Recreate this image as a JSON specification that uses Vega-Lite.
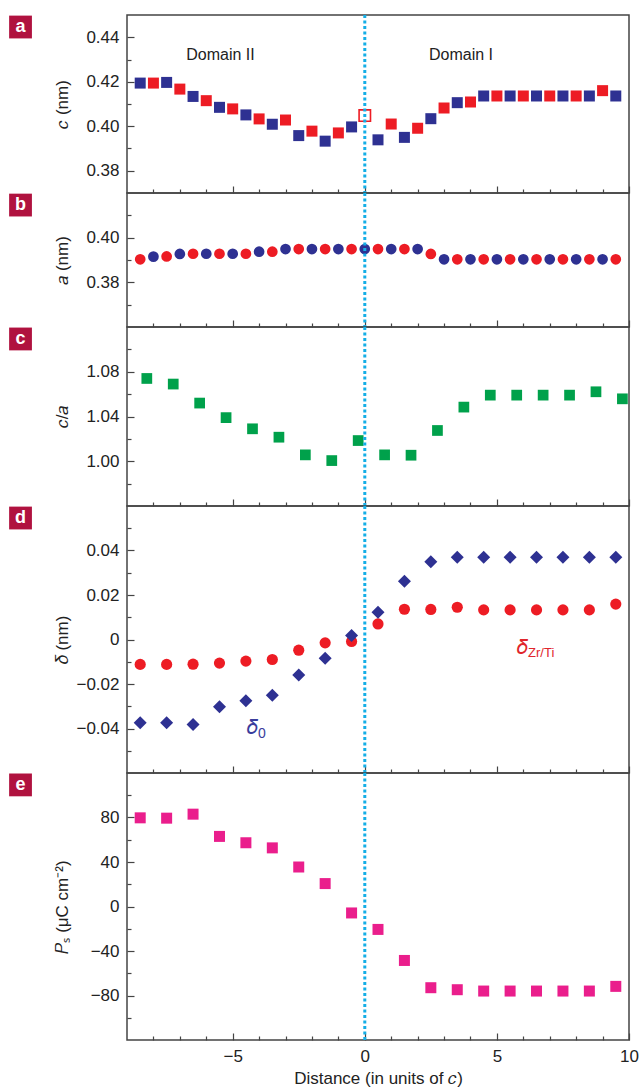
{
  "$schema": "https://vega.github.io/schema/vega-lite/v6.json",
  "padding": {"top": 12, "left": 8, "right": 2, "bottom": 0},
  "background": "white",
  "spacing": 0,
  "bounds": "flush",
  "config": {
    "font": "Liberation Sans",
    "view": {"stroke": "#444", "strokeWidth": 1.5},
    "axis": {"domain": false, "grid": false, "tickColor": "#444", "tickWidth": 1.2, "labelFontSize": 17, "titleFontSize": 17, "labelColor": "#222", "titleColor": "#222", "titleFontWeight": "normal", "labelPadding": 15, "labelOverlap": false, "labelFlush": false, "labelBound": false, "tickCount": 60},
    "concat": {"spacing": 0}
  },
  "datasets": {
    "one": [{}],
    "a": [
      {"x": -8.5, "v": 0.4194, "s": "blue"}, {"x": -8, "v": 0.4194, "s": "red"},
      {"x": -7.5, "v": 0.4197, "s": "blue"}, {"x": -7, "v": 0.4167, "s": "red"},
      {"x": -6.5, "v": 0.4134, "s": "blue"}, {"x": -6, "v": 0.4115, "s": "red"},
      {"x": -5.5, "v": 0.4085, "s": "blue"}, {"x": -5, "v": 0.4078, "s": "red"},
      {"x": -4.5, "v": 0.4051, "s": "blue"}, {"x": -4, "v": 0.4033, "s": "red"},
      {"x": -3.5, "v": 0.4009, "s": "blue"}, {"x": -3, "v": 0.4028, "s": "red"},
      {"x": -2.5, "v": 0.3958, "s": "blue"}, {"x": -2, "v": 0.3978, "s": "red"},
      {"x": -1.5, "v": 0.3933, "s": "blue"}, {"x": -1, "v": 0.3970, "s": "red"},
      {"x": -0.5, "v": 0.3997, "s": "blue"}, {"x": 0, "v": 0.4048, "s": "open"},
      {"x": 0.5, "v": 0.3939, "s": "blue"}, {"x": 1, "v": 0.4010, "s": "red"},
      {"x": 1.5, "v": 0.3950, "s": "blue"}, {"x": 2, "v": 0.3991, "s": "red"},
      {"x": 2.5, "v": 0.4034, "s": "blue"}, {"x": 3, "v": 0.4082, "s": "red"},
      {"x": 3.5, "v": 0.4106, "s": "blue"}, {"x": 4, "v": 0.4109, "s": "red"},
      {"x": 4.5, "v": 0.4136, "s": "blue"}, {"x": 5, "v": 0.4136, "s": "red"},
      {"x": 5.5, "v": 0.4136, "s": "blue"}, {"x": 6, "v": 0.4136, "s": "red"},
      {"x": 6.5, "v": 0.4136, "s": "blue"}, {"x": 7, "v": 0.4136, "s": "red"},
      {"x": 7.5, "v": 0.4136, "s": "blue"}, {"x": 8, "v": 0.4136, "s": "red"},
      {"x": 8.5, "v": 0.4136, "s": "blue"}, {"x": 9, "v": 0.4160, "s": "red"},
      {"x": 9.5, "v": 0.4136, "s": "blue"}
    ],
    "b": [
      {"x": -8.5, "v": 0.3903, "s": "red"}, {"x": -8, "v": 0.3915, "s": "blue"},
      {"x": -7.5, "v": 0.3916, "s": "red"}, {"x": -7, "v": 0.3927, "s": "blue"},
      {"x": -6.5, "v": 0.3928, "s": "red"}, {"x": -6, "v": 0.3928, "s": "blue"},
      {"x": -5.5, "v": 0.3928, "s": "red"}, {"x": -5, "v": 0.3928, "s": "blue"},
      {"x": -4.5, "v": 0.3928, "s": "red"}, {"x": -4, "v": 0.3937, "s": "blue"},
      {"x": -3.5, "v": 0.3937, "s": "red"}, {"x": -3, "v": 0.3949, "s": "blue"},
      {"x": -2.5, "v": 0.3949, "s": "red"}, {"x": -2, "v": 0.3949, "s": "blue"},
      {"x": -1.5, "v": 0.3949, "s": "red"}, {"x": -1, "v": 0.3949, "s": "blue"},
      {"x": -0.5, "v": 0.3949, "s": "red"}, {"x": 0, "v": 0.3949, "s": "blue"},
      {"x": 0.5, "v": 0.3949, "s": "red"}, {"x": 1, "v": 0.3949, "s": "blue"},
      {"x": 1.5, "v": 0.3949, "s": "red"}, {"x": 2, "v": 0.3949, "s": "blue"},
      {"x": 2.5, "v": 0.3927, "s": "red"}, {"x": 3, "v": 0.3903, "s": "blue"},
      {"x": 3.5, "v": 0.3903, "s": "red"}, {"x": 4, "v": 0.3903, "s": "blue"},
      {"x": 4.5, "v": 0.3903, "s": "red"}, {"x": 5, "v": 0.3903, "s": "blue"},
      {"x": 5.5, "v": 0.3903, "s": "red"}, {"x": 6, "v": 0.3903, "s": "blue"},
      {"x": 6.5, "v": 0.3903, "s": "red"}, {"x": 7, "v": 0.3903, "s": "blue"},
      {"x": 7.5, "v": 0.3903, "s": "red"}, {"x": 8, "v": 0.3903, "s": "blue"},
      {"x": 8.5, "v": 0.3903, "s": "red"}, {"x": 9, "v": 0.3903, "s": "blue"},
      {"x": 9.5, "v": 0.3903, "s": "red"}
    ],
    "c": [
      {"x": -8.25, "v": 1.074}, {"x": -7.25, "v": 1.069}, {"x": -6.25, "v": 1.052},
      {"x": -5.25, "v": 1.039}, {"x": -4.25, "v": 1.029}, {"x": -3.25, "v": 1.0215},
      {"x": -2.25, "v": 1.0057}, {"x": -1.25, "v": 1.0006}, {"x": -0.25, "v": 1.0185},
      {"x": 0.75, "v": 1.0057}, {"x": 1.75, "v": 1.0054}, {"x": 2.75, "v": 1.0275},
      {"x": 3.75, "v": 1.0484}, {"x": 4.75, "v": 1.0591}, {"x": 5.75, "v": 1.0591},
      {"x": 6.75, "v": 1.0591}, {"x": 7.75, "v": 1.0591}, {"x": 8.75, "v": 1.0621},
      {"x": 9.75, "v": 1.0558}
    ],
    "d": [
      {"x": -8.5, "zr": -0.0112, "d0": -0.0374}, {"x": -7.5, "zr": -0.0112, "d0": -0.0374},
      {"x": -6.5, "zr": -0.0111, "d0": -0.0382}, {"x": -5.5, "zr": -0.0106, "d0": -0.0302},
      {"x": -4.5, "zr": -0.0097, "d0": -0.0275}, {"x": -3.5, "zr": -0.0090, "d0": -0.0251},
      {"x": -2.5, "zr": -0.0048, "d0": -0.0159}, {"x": -1.5, "zr": -0.0015, "d0": -0.0084},
      {"x": -0.5, "zr": -0.0009, "d0": 0.0018}, {"x": 0.5, "zr": 0.0070, "d0": 0.0123},
      {"x": 1.5, "zr": 0.0136, "d0": 0.0262}, {"x": 2.5, "zr": 0.0135, "d0": 0.0350},
      {"x": 3.5, "zr": 0.0145, "d0": 0.0370}, {"x": 4.5, "zr": 0.0133, "d0": 0.0370},
      {"x": 5.5, "zr": 0.0133, "d0": 0.0370}, {"x": 6.5, "zr": 0.0133, "d0": 0.0370},
      {"x": 7.5, "zr": 0.0133, "d0": 0.0370}, {"x": 8.5, "zr": 0.0133, "d0": 0.0370},
      {"x": 9.5, "zr": 0.0159, "d0": 0.0370}
    ],
    "e": [
      {"x": -8.5, "v": 79.7}, {"x": -7.5, "v": 79.4}, {"x": -6.5, "v": 83},
      {"x": -5.5, "v": 63}, {"x": -4.5, "v": 57.3}, {"x": -3.5, "v": 52.7},
      {"x": -2.5, "v": 35.5}, {"x": -1.5, "v": 20.6}, {"x": -0.5, "v": -5.8},
      {"x": 0.5, "v": -20.6}, {"x": 1.5, "v": -48.5}, {"x": 2.5, "v": -73},
      {"x": 3.5, "v": -74.8}, {"x": 4.5, "v": -76}, {"x": 5.5, "v": -76},
      {"x": 6.5, "v": -76}, {"x": 7.5, "v": -76}, {"x": 8.5, "v": -76},
      {"x": 9.5, "v": -71.8}
    ]
  },
  "vconcat": [
    {
      "width": 502, "height": 178,
      "layer": [
        {
          "data": {"name": "a"},
          "transform": [{"filter": "datum.s != 'open'"}],
          "mark": {"type": "point", "shape": "square", "filled": true, "size": 121, "opacity": 1},
          "encoding": {
            "x": {"field": "x", "type": "quantitative", "scale": {"domain": [-9, 10], "nice": false, "zero": false},
              "axis": {"values": [-8,-7,-6,-5,-4,-3,-2,-1,0,1,2,3,4,5,6,7,8,9,10], "tickCount": 60, "labels": false, "title": null, "labelOverlap": false,
                "tickSize": {"condition": {"test": "datum.value % 5 === 0", "value": -7}, "value": -4}}},
            "y": {"field": "v", "type": "quantitative", "scale": {"domain": [0.37, 0.45], "nice": false, "zero": false},
              "axis": {"values": [0.38,0.39,0.40,0.41,0.42,0.43,0.44], "tickCount": 60, "title": "𝑐 (nm)", "titleX": -65, "titleBaseline": "middle", "labelOverlap": false,
                "labelExpr": "round(datum.value*100) % 2 === 0 ? format(datum.value, '.2f') : ''",
                "tickSize": {"condition": {"test": "round(datum.value*100) % 2 === 0", "value": -7}, "value": -4}}},
            "color": {"field": "s", "type": "nominal", "scale": {"domain": ["blue", "red"], "range": ["#2e3192", "#ed1c24"]}, "legend": null}
          }
        },
        {
          "data": {"name": "a"},
          "transform": [{"filter": "datum.s == 'open'"}],
          "mark": {"type": "point", "shape": "square", "filled": false, "size": 130, "strokeWidth": 1.6, "color": "#ed1c24", "opacity": 1},
          "encoding": {"x": {"field": "x", "type": "quantitative"}, "y": {"field": "v", "type": "quantitative"}}
        },
        {
          "data": {"name": "one"},
          "mark": {"type": "text", "text": "Domain II", "fontSize": 16, "color": "#222", "align": "center", "baseline": "middle"},
          "encoding": {"x": {"datum": -5.46}, "y": {"datum": 0.4319}}
        },
        {
          "data": {"name": "one"},
          "mark": {"type": "text", "text": "Domain I", "fontSize": 16, "color": "#222", "align": "center", "baseline": "middle"},
          "encoding": {"x": {"datum": 3.64}, "y": {"datum": 0.4319}}
        },
        {
          "data": {"name": "one"},
          "mark": {"type": "point", "shape": "square", "filled": true, "size": 520, "color": "#b0123f", "opacity": 1, "clip": false},
          "encoding": {"x": {"datum": -13.03}, "y": {"datum": 0.4446}}
        },
        {
          "data": {"name": "one"},
          "mark": {"type": "text", "text": "a", "fontSize": 18, "fontWeight": "bold", "color": "white", "align": "center", "baseline": "middle", "clip": false},
          "encoding": {"x": {"datum": -13.03}, "y": {"datum": 0.4446}}
        },
        {
          "data": {"name": "one"},
          "mark": {"type": "rule", "color": "#14aee6", "strokeWidth": 3, "strokeDash": [3, 2.5]},
          "encoding": {"x": {"datum": 0}}
        }
      ]
    },
    {
      "width": 502, "height": 134,
      "layer": [
        {
          "data": {"name": "b"},
          "mark": {"type": "circle", "size": 115, "opacity": 1},
          "encoding": {
            "x": {"field": "x", "type": "quantitative", "scale": {"domain": [-9, 10], "nice": false, "zero": false},
              "axis": {"values": [-8,-7,-6,-5,-4,-3,-2,-1,0,1,2,3,4,5,6,7,8,9,10], "tickCount": 60, "labels": false, "title": null, "labelOverlap": false,
                "tickSize": {"condition": {"test": "datum.value % 5 === 0", "value": -7}, "value": -4}}},
            "y": {"field": "v", "type": "quantitative", "scale": {"domain": [0.36, 0.42], "nice": false, "zero": false},
              "axis": {"values": [0.37,0.38,0.39,0.40,0.41], "tickCount": 60, "title": "𝑎 (nm)", "titleX": -65, "titleBaseline": "middle", "labelOverlap": false,
                "labelExpr": "round(datum.value*100) % 2 === 0 ? format(datum.value, '.2f') : ''",
                "tickSize": {"condition": {"test": "round(datum.value*100) % 2 === 0", "value": -7}, "value": -4}}},
            "color": {"field": "s", "type": "nominal", "scale": {"domain": ["blue", "red"], "range": ["#2e3192", "#ed1c24"]}, "legend": null}
          }
        },
        {
          "data": {"name": "one"},
          "mark": {"type": "point", "shape": "square", "filled": true, "size": 520, "color": "#b0123f", "opacity": 1, "clip": false},
          "encoding": {"x": {"datum": -13.03}, "y": {"datum": 0.4146}}
        },
        {
          "data": {"name": "one"},
          "mark": {"type": "text", "text": "b", "fontSize": 18, "fontWeight": "bold", "color": "white", "align": "center", "baseline": "middle", "clip": false},
          "encoding": {"x": {"datum": -13.03}, "y": {"datum": 0.4146}}
        },
        {
          "data": {"name": "one"},
          "mark": {"type": "rule", "color": "#14aee6", "strokeWidth": 3, "strokeDash": [3, 2.5]},
          "encoding": {"x": {"datum": 0}}
        }
      ]
    },
    {
      "width": 502, "height": 179,
      "layer": [
        {
          "data": {"name": "c"},
          "mark": {"type": "point", "shape": "square", "filled": true, "size": 115, "opacity": 1, "color": "#00a14b"},
          "encoding": {
            "x": {"field": "x", "type": "quantitative", "scale": {"domain": [-9, 10], "nice": false, "zero": false},
              "axis": {"values": [-8,-7,-6,-5,-4,-3,-2,-1,0,1,2,3,4,5,6,7,8,9,10], "tickCount": 60, "labels": false, "title": null, "labelOverlap": false,
                "tickSize": {"condition": {"test": "datum.value % 5 === 0", "value": -7}, "value": -4}}},
            "y": {"field": "v", "type": "quantitative", "scale": {"domain": [0.96, 1.12], "nice": false, "zero": false},
              "axis": {"values": [0.98,1.00,1.02,1.04,1.06,1.08,1.10], "tickCount": 60, "title": "𝑐/𝑎", "titleX": -65, "titleBaseline": "middle", "labelOverlap": false,
                "labelExpr": "round(datum.value*100) % 4 === 0 ? format(datum.value, '.2f') : ''",
                "tickSize": {"condition": {"test": "round(datum.value*100) % 4 === 0", "value": -7}, "value": -4}}}
          }
        },
        {
          "data": {"name": "one"},
          "mark": {"type": "point", "shape": "square", "filled": true, "size": 520, "color": "#b0123f", "opacity": 1, "clip": false},
          "encoding": {"x": {"datum": -13.03}, "y": {"datum": 1.1093}}
        },
        {
          "data": {"name": "one"},
          "mark": {"type": "text", "text": "c", "fontSize": 18, "fontWeight": "bold", "color": "white", "align": "center", "baseline": "middle", "clip": false},
          "encoding": {"x": {"datum": -13.03}, "y": {"datum": 1.1093}}
        },
        {
          "data": {"name": "one"},
          "mark": {"type": "rule", "color": "#14aee6", "strokeWidth": 3, "strokeDash": [3, 2.5]},
          "encoding": {"x": {"datum": 0}}
        }
      ]
    },
    {
      "width": 502, "height": 267,
      "layer": [
        {
          "data": {"name": "d"},
          "mark": {"type": "circle", "size": 125, "opacity": 1, "color": "#ed1c24"},
          "encoding": {
            "x": {"field": "x", "type": "quantitative", "scale": {"domain": [-9, 10], "nice": false, "zero": false},
              "axis": {"values": [-8,-7,-6,-5,-4,-3,-2,-1,0,1,2,3,4,5,6,7,8,9,10], "tickCount": 60, "labels": false, "title": null, "labelOverlap": false,
                "tickSize": {"condition": {"test": "datum.value % 5 === 0", "value": -7}, "value": -4}}},
            "y": {"field": "zr", "type": "quantitative", "scale": {"domain": [-0.06, 0.06], "nice": false, "zero": false},
              "axis": {"values": [-0.05,-0.04,-0.03,-0.02,-0.01,0,0.01,0.02,0.03,0.04,0.05], "tickCount": 60, "title": "𝛿 (nm)", "titleX": -65, "titleBaseline": "middle", "labelOverlap": false,
                "labelExpr": "datum.value === 0 ? '0' : (round(datum.value*100) % 2 === 0 ? format(datum.value, '.2f') : '')",
                "tickSize": {"condition": {"test": "round(datum.value*100) % 2 === 0", "value": -7}, "value": -4}}}
          }
        },
        {
          "data": {"name": "d"},
          "mark": {"type": "point", "shape": "diamond", "filled": true, "size": 169, "opacity": 1, "color": "#2e3192"},
          "encoding": {"x": {"field": "x", "type": "quantitative"}, "y": {"field": "d0", "type": "quantitative"}}
        },
        {
          "data": {"name": "one"},
          "mark": {"type": "text", "text": "𝛿", "fontSize": 20, "color": "#3a3d9c", "align": "right", "baseline": "middle"},
          "encoding": {"x": {"datum": -4.04}, "y": {"datum": -0.0398}}
        },
        {
          "data": {"name": "one"},
          "mark": {"type": "text", "text": "0", "fontSize": 14, "color": "#3a3d9c", "align": "left", "baseline": "middle", "dy": 6},
          "encoding": {"x": {"datum": -4.04}, "y": {"datum": -0.0398}}
        },
        {
          "data": {"name": "one"},
          "mark": {"type": "text", "text": "𝛿", "fontSize": 20, "color": "#e0262c", "align": "right", "baseline": "middle"},
          "encoding": {"x": {"datum": 6.18}, "y": {"datum": -0.0040}}
        },
        {
          "data": {"name": "one"},
          "mark": {"type": "text", "text": "Zr/Ti", "fontSize": 13, "color": "#e0262c", "align": "left", "baseline": "middle", "dy": 5},
          "encoding": {"x": {"datum": 6.18}, "y": {"datum": -0.0040}}
        },
        {
          "data": {"name": "one"},
          "mark": {"type": "point", "shape": "square", "filled": true, "size": 520, "color": "#b0123f", "opacity": 1, "clip": false},
          "encoding": {"x": {"datum": -13.03}, "y": {"datum": 0.0546}}
        },
        {
          "data": {"name": "one"},
          "mark": {"type": "text", "text": "d", "fontSize": 18, "fontWeight": "bold", "color": "white", "align": "center", "baseline": "middle", "clip": false},
          "encoding": {"x": {"datum": -13.03}, "y": {"datum": 0.0546}}
        },
        {
          "data": {"name": "one"},
          "mark": {"type": "rule", "color": "#14aee6", "strokeWidth": 3, "strokeDash": [3, 2.5]},
          "encoding": {"x": {"datum": 0}}
        }
      ]
    },
    {
      "width": 502, "height": 267,
      "layer": [
        {
          "data": {"name": "e"},
          "mark": {"type": "point", "shape": "square", "filled": true, "size": 121, "opacity": 1, "color": "#ea1e8c"},
          "encoding": {
            "x": {"field": "x", "type": "quantitative", "scale": {"domain": [-9, 10], "nice": false, "zero": false},
              "axis": {"values": [-8,-7,-6,-5,-4,-3,-2,-1,0,1,2,3,4,5,6,7,8,9,10], "tickCount": 60, "title": "Distance (in units of 𝑐)", "titlePadding": 3, "labelOverlap": false, "labelFlush": false,
                "labelExpr": "datum.value % 5 === 0 ? format(datum.value, 'd') : ''",
                "tickSize": {"condition": {"test": "datum.value % 5 === 0", "value": -7}, "value": -4}}},
            "y": {"field": "v", "type": "quantitative", "scale": {"domain": [-120, 120], "nice": false, "zero": false},
              "axis": {"values": [-100,-80,-60,-40,-20,0,20,40,60,80,100], "tickCount": 60, "title": "𝑃ₛ (μC cm⁻²)", "titleX": -65, "titleBaseline": "middle", "labelOverlap": false,
                "labelExpr": "datum.value % 40 === 0 ? format(datum.value, 'd') : ''",
                "tickSize": {"condition": {"test": "datum.value % 40 === 0", "value": -7}, "value": -4}}}
          }
        },
        {
          "data": {"name": "one"},
          "mark": {"type": "point", "shape": "square", "filled": true, "size": 520, "color": "#b0123f", "opacity": 1, "clip": false},
          "encoding": {"x": {"datum": -13.03}, "y": {"datum": 109.3}}
        },
        {
          "data": {"name": "one"},
          "mark": {"type": "text", "text": "e", "fontSize": 18, "fontWeight": "bold", "color": "white", "align": "center", "baseline": "middle", "clip": false},
          "encoding": {"x": {"datum": -13.03}, "y": {"datum": 109.3}}
        },
        {
          "data": {"name": "one"},
          "mark": {"type": "rule", "color": "#14aee6", "strokeWidth": 3, "strokeDash": [3, 2.5]},
          "encoding": {"x": {"datum": 0}}
        }
      ]
    }
  ]
}
